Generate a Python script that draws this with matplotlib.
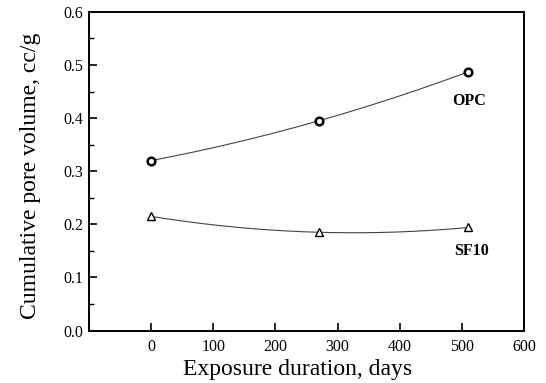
import numpy as np
import matplotlib
matplotlib.use("Agg")
import matplotlib.pyplot as plt
from matplotlib.ticker import MultipleLocator

days = [0, 270, 510]
opc = [0.320, 0.395, 0.487]
sf10 = [0.215, 0.185, 0.194]

plt.rcParams['font.family'] = ['Liberation Serif', 'DejaVu Serif']

fig = plt.figure(figsize=(5.46, 3.83), dpi=100)
ax = fig.add_axes([0.163, 0.137, 0.797, 0.832])

xs = np.linspace(min(days), max(days), 200)
for vals, mk in [(opc, 'o'), (sf10, '^')]:
    c = np.polyfit(days, vals, 2)
    ax.plot(xs, np.polyval(c, xs), color='#444444', lw=0.8)
    ax.plot(days, vals, linestyle='none', marker=mk,
            ms=5.5 if mk == 'o' else 6, mfc='white',
            mec='black', mew=1.8 if mk == 'o' else 1.0)

ax.text(512, 0.433, 'OPC', fontsize=11.5, fontweight='bold', ha='center', va='center')
ax.text(516, 0.150, 'SF10', fontsize=11.5, fontweight='bold', ha='center', va='center')

ax.set_xlim(-100, 600)
ax.set_ylim(0, 0.6)
ax.set_xticks([0, 100, 200, 300, 400, 500, 600])
ax.set_yticks([0.0, 0.1, 0.2, 0.3, 0.4, 0.5, 0.6])
ax.yaxis.set_minor_locator(MultipleLocator(0.05))
ax.set_yticklabels(['0.0', '0.1', '0.2', '0.3', '0.4', '0.5', '0.6'])
ax.tick_params(direction='in', top=False, right=False, labelsize=11.5, length=5.5, width=1.2)
ax.tick_params(axis='x', pad=6)
ax.tick_params(axis='y', pad=4)
ax.tick_params(which='minor', direction='in', length=3.5, width=1, right=False)
for s in ax.spines.values():
    s.set_linewidth(1.4)

ax.set_xlabel('Exposure duration, days', fontsize=17, labelpad=3)
ax.xaxis.label.set_x(0.48)
ax.set_ylabel('Cumulative pore volume, cc/g', fontsize=17, labelpad=16)
ax.yaxis.label.set_y(0.485)

fig.savefig('out.png', dpi=100)
